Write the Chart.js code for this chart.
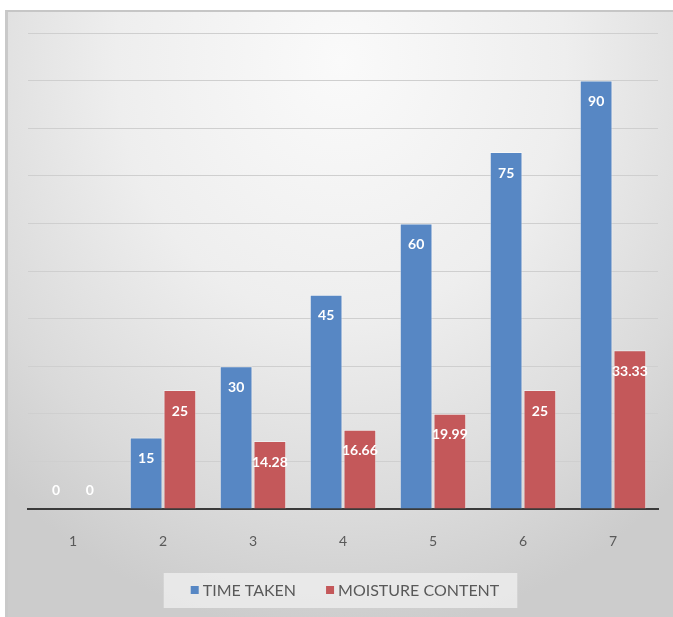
<!DOCTYPE html>
<html>
<head>
<meta charset="utf-8">
<script src="https://cdn.jsdelivr.net/npm/chart.js@4/dist/chart.umd.min.js"></script>
<style>
    html, body { margin: 0; padding: 0; background: #ffffff; }
    #wrap { position: relative; width: 673px; height: 617px; overflow: hidden; }
    #panel {
        position: absolute; left: 5px; top: 10px; width: 668px; height: 607px;
        box-sizing: border-box;
        border-top: 2px solid #c6c6c6; border-left: 3px solid #c9c9c9;
        background: radial-gradient(ellipse 75% 95% at 50% 8%, #fafafa 0%, #eeeeee 45%, #dadada 80%, #cccccc 100%);
    }
    #chart { position: absolute; left: 0; top: 0; }
</style>
</head>
<body>
<div id="wrap">
    <div id="panel"></div>
    <canvas id="chart" width="673" height="617"></canvas>
</div>
<script>
    // Trial numbers and the two measured series
    var trials = ['1', '2', '3', '4', '5', '6', '7'];
    var timeTaken = [0, 15, 30, 45, 60, 75, 90];
    var moistureContent = [0, 25, 14.28, 16.66, 19.99, 25, 33.33];

    var blue = '#5787c4';
    var red = '#c4585a';

    // Light panel behind the legend plus the legend items themselves
    var legendPlugin = {
        id: 'boxLegend',
        afterDraw: function(chart) {
            var ctx = chart.ctx;
            var sets = chart.data.datasets;
            ctx.save();
            ctx.font = '16px Lato';
            var sq = 8, gap = 4, spacing = 30;
            var widths = sets.map(function(ds) { return sq + gap + ctx.measureText(ds.label).width; });
            var total = widths.reduce(function(a, b) { return a + b; }, 0) + spacing * (sets.length - 1);
            var cx = 345, cy = 590;
            var x = cx - total / 2;

            ctx.fillStyle = 'rgba(240,240,240,0.75)';
            ctx.fillRect(x - 27, 573, total + 45, 35);

            ctx.textBaseline = 'middle';
            ctx.textAlign = 'left';
            sets.forEach(function(ds, i) {
                ctx.fillStyle = ds.backgroundColor;
                ctx.fillRect(x, cy - sq / 2, sq, sq);
                ctx.fillStyle = '#595959';
                ctx.fillText(ds.label, x + sq + gap, cy + 1);
                x += widths[i] + spacing;
            });
            ctx.restore();
        }
    };

    // White value labels just inside the top of each bar
    var valueLabels = {
        id: 'valueLabels',
        afterDatasetsDraw: function(chart) {
            var ctx = chart.ctx;
            ctx.save();
            ctx.font = 'bold 14px Lato';
            ctx.fillStyle = '#ffffff';
            ctx.textAlign = 'center';
            ctx.textBaseline = 'middle';
            chart.data.datasets.forEach(function(ds, i) {
                chart.getDatasetMeta(i).data.forEach(function(bar, j) {
                    var v = ds.data[j];
                    var y = v > 0 ? bar.y + 21 : bar.y - 19;
                    ctx.fillText(String(v), bar.x, y);
                });
            });
            ctx.restore();
        }
    };

    new Chart(document.getElementById('chart'), {
        type: 'bar',
        data: {
            labels: trials,
            datasets: [{
                label: 'TIME TAKEN',
                data: timeTaken,
                backgroundColor: blue,
                borderColor: 'rgba(255,255,255,0.45)',
                borderWidth: 1,
                categoryPercentage: 0.75,
                barPercentage: 0.97
            }, {
                label: 'MOISTURE CONTENT',
                data: moistureContent,
                backgroundColor: red,
                borderColor: 'rgba(255,255,255,0.45)',
                borderWidth: 1,
                categoryPercentage: 0.75,
                barPercentage: 0.97
            }]
        },
        options: {
            responsive: false,
            animation: false,
            layout: { padding: { left: 28, right: 15, top: 33, bottom: 44 } },
            plugins: {
                legend: { display: false },
                tooltip: { enabled: false }
            },
            scales: {
                x: {
                    grid: { display: false, drawTicks: false },
                    border: { display: true, color: '#3a3a3a', width: 2 },
                    ticks: { color: '#595959', font: { family: 'Lato', size: 14 }, padding: 24 },
                    afterFit: function(s) { s.height = 64; }
                },
                y: {
                    min: 0,
                    max: 100,
                    ticks: { display: false, stepSize: 10 },
                    grid: { color: '#cfcfcf', lineWidth: 1, drawTicks: false },
                    border: { display: false },
                    afterFit: function(s) { s.width = 0; }
                }
            }
        },
        plugins: [valueLabels, legendPlugin]
    });
</script>
</body>
</html>
